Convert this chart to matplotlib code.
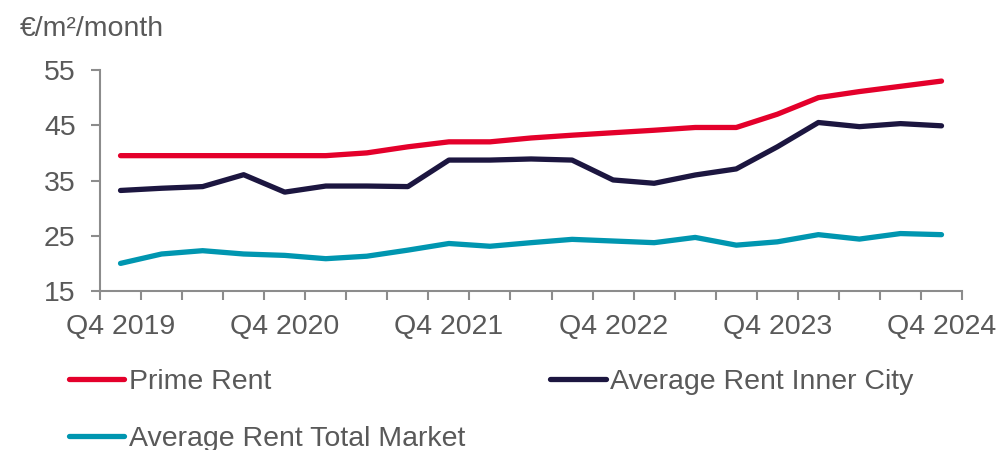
import numpy as np
import matplotlib.pyplot as plt

plt.rcParams['font.family'] = ['Liberation Sans', 'DejaVu Sans']

quarters = ['Q4 2019', 'Q1 2020', 'Q2 2020', 'Q3 2020', 'Q4 2020',
            'Q1 2021', 'Q2 2021', 'Q3 2021', 'Q4 2021',
            'Q1 2022', 'Q2 2022', 'Q3 2022', 'Q4 2022',
            'Q1 2023', 'Q2 2023', 'Q3 2023', 'Q4 2023',
            'Q1 2024', 'Q2 2024', 'Q3 2024', 'Q4 2024']

prime_rent = [39.5, 39.5, 39.5, 39.5, 39.5, 39.5, 40.0, 41.1, 42.0,
              42.0, 42.7, 43.2, 43.65, 44.1, 44.6, 44.6, 47.0,
              50.0, 51.1, 52.05, 53.0]
inner_city = [33.2, 33.6, 33.9, 36.05, 32.9, 34.0, 34.0, 33.9, 38.7,
              38.7, 38.9, 38.7, 35.1, 34.5, 36.0, 37.1, 41.1,
              45.5, 44.75, 45.3, 44.9]
total_market = [20.0, 21.7, 22.3, 21.7, 21.45, 20.85, 21.3, 22.4, 23.6,
                23.1, 23.75, 24.35, 24.05, 23.75, 24.7, 23.3, 23.9,
                25.2, 24.4, 25.4, 25.2]

txt = '#595959'
grey = '#8c8c8c'

fig = plt.figure(figsize=(9.96, 4.5), dpi=100)
ax = fig.add_axes([0.1004, 0.3533, 0.8655, 0.4911])

x = np.arange(len(quarters))
l1, = ax.plot(x, prime_rent, color='#E4002B', lw=3.8, solid_capstyle='round',
              solid_joinstyle='round', label='Prime Rent')
l2, = ax.plot(x, inner_city, color='#1C1640', lw=3.8, solid_capstyle='round',
              solid_joinstyle='round', label='Average Rent Inner City')
l3, = ax.plot(x, total_market, color='#0096B0', lw=3.8, solid_capstyle='round',
              solid_joinstyle='round', label='Average Rent Total Market')

ax.set_xlim(-0.5, len(quarters) - 0.5)
ax.set_ylim(15, 55)
ax.set_yticks([15, 25, 35, 45, 55])

# labels on every Q4, tick marks between categories
ax.set_xticks(x[::4])
ax.set_xticklabels(quarters[::4])
ax.set_xticks(np.arange(-0.5, len(quarters), 1), minor=True)
ax.tick_params(axis='x', which='major', length=0, pad=16.5)
ax.tick_params(axis='x', which='minor', length=6.5, width=1.5, color=grey)
ax.tick_params(axis='y', length=6.5, width=1.5, color=grey, pad=11)
ax.tick_params(labelsize=20.5, labelcolor=txt)

for s in ['top', 'right']:
    ax.spines[s].set_visible(False)
for s in ['left', 'bottom']:
    ax.spines[s].set_color(grey)
    ax.spines[s].set_linewidth(1.5)

fig.text(0.02, 0.92, '€/m²/month', fontsize=20.5, color=txt)

# column-wise fill: Prime / Total Market in column 1, Inner City in column 2
fig.legend([l1, l3, l2], [l1.get_label(), l3.get_label(), l2.get_label()],
           loc='upper left', bbox_to_anchor=(0.069, 0.181), ncol=2,
           frameon=False, fontsize=20.5, labelcolor=txt,
           handlelength=1.95, handletextpad=0.15, columnspacing=3.0,
           labelspacing=1.1, borderpad=0, borderaxespad=0)

fig.savefig('out.png', dpi=100)
